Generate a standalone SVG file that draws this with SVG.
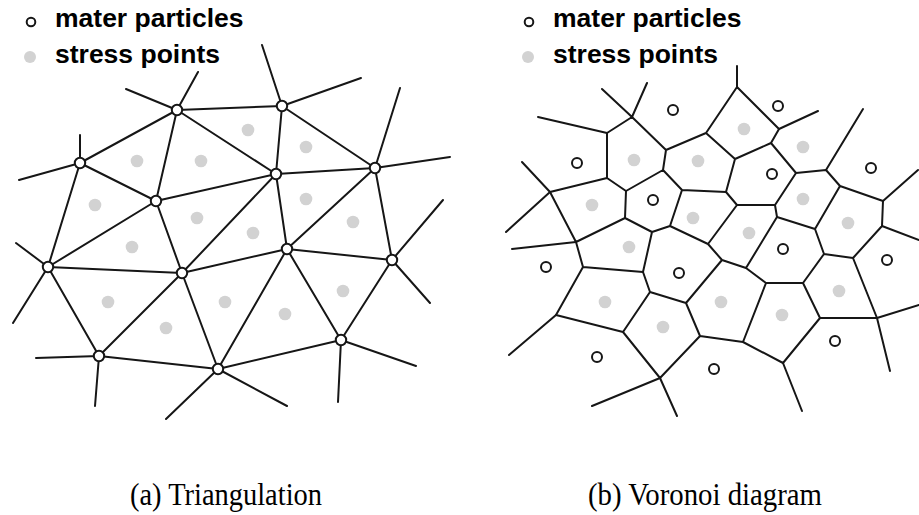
<svg xmlns="http://www.w3.org/2000/svg" width="919" height="515" viewBox="0 0 919 515">
<style>
.edge{stroke:#161616;stroke-width:2;fill:none;stroke-linecap:round;stroke-linejoin:round}
.node{fill:#fff;stroke:#161616;stroke-width:2}
.sp{fill:#d2d2d2}
.leg{font-family:"Liberation Sans",Arial,sans-serif;font-weight:bold;font-size:26.5px;fill:#000}
.cap{font-family:"Liberation Serif","Times New Roman",serif;font-size:31px;fill:#000}
</style>
<rect width="919" height="515" fill="#fff"/>

<!-- Legends -->
<g id="legend-a">
<circle class="node" cx="31" cy="22" r="4.3" stroke-width="1.8"/>
<text class="leg" x="55" y="27">mater particles</text>
<circle class="sp" cx="30" cy="57" r="6"/>
<text class="leg" x="55" y="63">stress points</text>
</g>
<g id="legend-b">
<circle class="node" cx="529" cy="22" r="4.3" stroke-width="1.8"/>
<text class="leg" x="553" y="27">mater particles</text>
<circle class="sp" cx="528" cy="57" r="6"/>
<text class="leg" x="553" y="63">stress points</text>
</g>

<!-- (a) Triangulation connectors -->
<g id="connectors-a" class="edge">
<path d="M177,110L80,163 M177,110L156,201 M177,110L282,106 M177,110L276,174 M80,163L156,201 M80,163L48,267 M156,201L276,174 M156,201L48,267 M156,201L182,273 M282,106L276,174 M282,106L375,168 M276,174L375,168 M276,174L182,273 M276,174L287,249 M375,168L287,249 M375,168L392,260 M48,267L182,273 M48,267L99,356 M182,273L99,356 M182,273L218,369 M182,273L287,249 M99,356L218,369 M218,369L287,249 M218,369L341,340 M287,249L392,260 M287,249L341,340 M392,260L341,340"/>
<path d="M177,110L126,89 M177,110L198,72 M80,163L80,135 M80,163L19,180 M282,106L262,45 M282,106L361,78 M375,168L400,88 M375,168L450,157 M48,267L16,243 M48,267L13,323 M99,356L36,358 M99,356L95,406 M218,369L166,419 M218,369L287,406 M341,340L338,402 M341,340L416,366 M392,260L443,200 M392,260L430,303"/>
</g>

<!-- (a) stress points -->
<g id="stress-a">
<circle class="sp" cx="137" cy="161" r="6.3"/>
<circle class="sp" cx="201" cy="161" r="6.3"/>
<circle class="sp" cx="248" cy="130" r="6.3"/>
<circle class="sp" cx="306" cy="147" r="6.3"/>
<circle class="sp" cx="95" cy="205" r="6.3"/>
<circle class="sp" cx="197" cy="218" r="6.3"/>
<circle class="sp" cx="306" cy="199" r="6.3"/>
<circle class="sp" cx="353" cy="222" r="6.3"/>
<circle class="sp" cx="253" cy="233" r="6.3"/>
<circle class="sp" cx="132" cy="247" r="6.3"/>
<circle class="sp" cx="108" cy="302" r="6.3"/>
<circle class="sp" cx="166" cy="328" r="6.3"/>
<circle class="sp" cx="225" cy="302" r="6.3"/>
<circle class="sp" cx="285" cy="314" r="6.3"/>
<circle class="sp" cx="343" cy="291" r="6.3"/>
</g>

<!-- (a) nodes -->
<g id="a-A"><circle class="node" cx="177" cy="110" r="5.2"/></g>
<g id="a-B"><circle class="node" cx="80" cy="163" r="5.2"/></g>
<g id="a-C"><circle class="node" cx="156" cy="201" r="5.2"/></g>
<g id="a-D"><circle class="node" cx="282" cy="106" r="5.2"/></g>
<g id="a-E"><circle class="node" cx="276" cy="174" r="5.2"/></g>
<g id="a-F"><circle class="node" cx="375" cy="168" r="5.2"/></g>
<g id="a-G"><circle class="node" cx="48" cy="267" r="5.2"/></g>
<g id="a-H"><circle class="node" cx="182" cy="273" r="5.2"/></g>
<g id="a-I"><circle class="node" cx="99" cy="356" r="5.2"/></g>
<g id="a-J"><circle class="node" cx="218" cy="369" r="5.2"/></g>
<g id="a-K"><circle class="node" cx="287" cy="249" r="5.2"/></g>
<g id="a-L"><circle class="node" cx="392" cy="260" r="5.2"/></g>
<g id="a-M"><circle class="node" cx="341" cy="340" r="5.2"/></g>

<!-- (b) Voronoi connectors -->
<g id="connectors-b" class="edge">
<path d="M632,117L666,150 M632,117L607,133 M666,150L663,170 M666,150L706,133 M607,133L607,178 M607,178L626,191 M607,178L550,192 M626,191L663,170 M626,191L625,218 M550,192L576,242 M663,170L682,190 M706,133L737,87 M706,133L735,159 M682,190L726,192 M682,190L670,226 M737,87L779,129 M779,129L771,143 M771,143L735,159 M771,143L796,173 M735,159L726,192 M726,192L737,205 M737,205L775,205 M737,205L708,244 M775,205L796,173 M775,205L777,217 M796,173L826,170 M826,170L840,186 M840,186L883,201 M840,186L815,229 M883,201L882,226 M576,242L625,218 M576,242L583,267 M625,218L652,232 M583,267L643,272 M583,267L556,315 M643,272L652,232 M643,272L650,292 M652,232L670,226 M670,226L708,244 M650,292L623,332 M650,292L686,303 M556,315L623,332 M623,332L660,378 M686,303L722,260 M686,303L700,336 M660,378L700,336 M700,336L743,342 M708,244L722,260 M722,260L746,268 M777,217L746,268 M777,217L815,229 M746,268L766,283 M815,229L824,254 M824,254L853,258 M824,254L803,283 M853,258L882,226 M853,258L877,318 M877,318L820,318 M820,318L803,283 M820,318L783,363 M803,283L766,283 M766,283L743,342 M743,342L783,363"/>
<path d="M632,117L602,89 M632,117L647,83 M607,133L538,117 M550,192L522,162 M550,192L506,232 M576,242L512,249 M556,315L509,355 M660,378L592,406 M660,378L677,416 M783,363L802,411 M877,318L890,371 M877,318L919,305 M882,226L919,240 M883,201L918,170 M826,170L863,109 M779,129L818,111 M737,87L737,66"/>
</g>

<!-- (b) stress points -->
<g id="stress-b">
<circle class="sp" cx="634" cy="160" r="6.3"/>
<circle class="sp" cx="698" cy="161" r="6.3"/>
<circle class="sp" cx="592" cy="205" r="6.3"/>
<circle class="sp" cx="693" cy="218" r="6.3"/>
<circle class="sp" cx="744" cy="129" r="6.3"/>
<circle class="sp" cx="803" cy="147" r="6.3"/>
<circle class="sp" cx="803" cy="199" r="6.3"/>
<circle class="sp" cx="629" cy="247" r="6.3"/>
<circle class="sp" cx="605" cy="302" r="6.3"/>
<circle class="sp" cx="663" cy="327" r="6.3"/>
<circle class="sp" cx="749" cy="233" r="6.3"/>
<circle class="sp" cx="848" cy="223" r="6.3"/>
<circle class="sp" cx="839" cy="291" r="6.3"/>
<circle class="sp" cx="721" cy="302" r="6.3"/>
<circle class="sp" cx="782" cy="315" r="6.3"/>
</g>

<!-- (b) particles -->
<g id="b-p1"><circle class="node" cx="577" cy="163" r="5"/></g>
<g id="b-p2"><circle class="node" cx="673" cy="110" r="5"/></g>
<g id="b-p3"><circle class="node" cx="653" cy="200" r="5"/></g>
<g id="b-p4"><circle class="node" cx="778" cy="106" r="5"/></g>
<g id="b-p5"><circle class="node" cx="772" cy="174" r="5"/></g>
<g id="b-p6"><circle class="node" cx="871" cy="168" r="5"/></g>
<g id="b-p7"><circle class="node" cx="546" cy="267" r="5"/></g>
<g id="b-p8"><circle class="node" cx="679" cy="273" r="5"/></g>
<g id="b-p9"><circle class="node" cx="597" cy="357" r="5"/></g>
<g id="b-p10"><circle class="node" cx="714" cy="369" r="5"/></g>
<g id="b-p11"><circle class="node" cx="783" cy="249" r="5"/></g>
<g id="b-p12"><circle class="node" cx="887" cy="260" r="5"/></g>
<g id="b-p13"><circle class="node" cx="835" cy="341" r="5"/></g>

<!-- Captions -->
<text class="cap" x="130" y="505" textLength="192" lengthAdjust="spacingAndGlyphs">(a) Triangulation</text>
<text class="cap" x="588" y="505" textLength="234" lengthAdjust="spacingAndGlyphs">(b) Voronoi diagram</text>
</svg>
